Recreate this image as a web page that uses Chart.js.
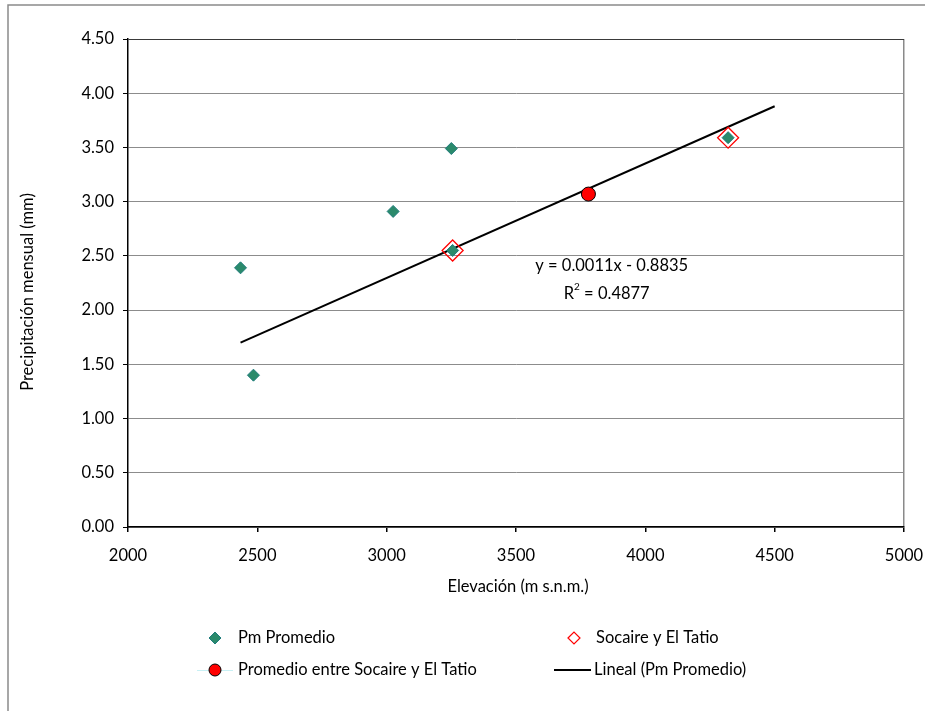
<!DOCTYPE html>
<html>
<head>
<meta charset="utf-8">
<script src="https://cdn.jsdelivr.net/npm/chart.js@4.4.1/dist/chart.umd.min.js"></script>
<style>
  html, body { margin: 0; padding: 0; background: #fff; overflow: hidden; }
  #wrap { position: relative; width: 925px; height: 711px; }
</style>
</head>
<body>
<div id="wrap"><canvas id="chart" width="925" height="711"></canvas></div>
<script>
  'use strict';

  // Pm Promedio (green diamonds).
  const pmElev = [2435, 2485, 3025, 3250, 3255, 4320];
  const pmPrecip = [2.39, 1.40, 2.91, 3.49, 2.55, 3.59];

  // Socaire y El Tatio (open red diamonds).
  const stElev = [3255, 4320];
  const stPrecip = [2.55, 3.59];

  // Promedio entre Socaire y El Tatio.
  const avgElev = [3780];
  const avgPrecip = [3.07];

  // Lineal (Pm Promedio) trend line end points as drawn.
  const trendElev = [2435, 4500];
  const trendPrecip = [1.70, 3.88];

  const xTicks = [2000, 2500, 3000, 3500, 4000, 4500, 5000];
  const yTicks = [0, 0.5, 1, 1.5, 2, 2.5, 3, 3.5, 4, 4.5];

  const equation = 'y = 0.0011x - 0.8835';
  const rSquared = '0.4877';

  const FONT = 'Lato, "Open Sans", sans-serif';
  const FS = 16.5;

  function pts(xs, ys) {
    return xs.map((x, i) => ({ x: x, y: ys[i] }));
  }

  // Draws outer frame, axis titles, trend equation and the two-column legend.
  const extras = {
    id: 'extras',
    beforeDraw(chart) {
      const ctx = chart.ctx;
      ctx.save();
      ctx.strokeStyle = '#8a8a8a';
      ctx.lineWidth = 1.5;
      ctx.strokeRect(8, 5, 1200, 1200);
      ctx.restore();
    },
    afterDraw(chart) {
      const ctx = chart.ctx;
      const xs = chart.scales.x;
      const ys = chart.scales.y;
      ctx.save();
      ctx.fillStyle = '#000';
      ctx.font = FS + 'px ' + FONT;
      ctx.textBaseline = 'middle';

      // Axis titles.
      ctx.textAlign = 'center';
      ctx.fillText('Elevación (m s.n.m.)', 518, 587);
      ctx.save();
      ctx.translate(28, 292);
      ctx.rotate(-Math.PI / 2);
      ctx.fillText('Precipitación mensual (mm)', 0, 0);
      ctx.restore();

      // Trend equation.
      const ex = xs.getPixelForValue(3870);
      const ey = ys.getPixelForValue(2.41);
      ctx.fillText(equation, ex, ey);
      const rTxt = ' = ' + rSquared;
      const wR = ctx.measureText('R').width;
      const wRest = ctx.measureText(rTxt).width;
      ctx.font = '10px ' + FONT;
      const w2 = ctx.measureText('2').width;
      const total = wR + w2 + wRest;
      const rx = ex - 5 - total / 2;
      const ry = ey + 28;
      ctx.textAlign = 'left';
      ctx.font = FS + 'px ' + FONT;
      ctx.fillText('R', rx, ry);
      ctx.font = '10px ' + FONT;
      ctx.fillText('2', rx + wR, ry - 7);
      ctx.font = FS + 'px ' + FONT;
      ctx.fillText(rTxt, rx + wR + w2, ry);

      // Legend.
      const row1 = 638;
      const row2 = 670;
      const diamond = (cx, cy, r, fill, stroke, lw) => {
        ctx.beginPath();
        ctx.moveTo(cx - r, cy);
        ctx.lineTo(cx, cy - r);
        ctx.lineTo(cx + r, cy);
        ctx.lineTo(cx, cy + r);
        ctx.closePath();
        if (fill) { ctx.fillStyle = fill; ctx.fill(); }
        ctx.strokeStyle = stroke;
        ctx.lineWidth = lw;
        ctx.stroke();
      };
      diamond(215, row1, 6, '#2b8a6b', '#1f7c7c', 1);
      diamond(574, row1, 6, '#fff', '#ff0000', 1.2);

      ctx.strokeStyle = '#c8f0f4';
      ctx.lineWidth = 1;
      ctx.beginPath();
      ctx.moveTo(197, row2 + 0.5);
      ctx.lineTo(233, row2 + 0.5);
      ctx.stroke();
      ctx.beginPath();
      ctx.arc(215, row2, 6, 0, Math.PI * 2);
      ctx.fillStyle = '#ff0000';
      ctx.fill();
      ctx.strokeStyle = '#000';
      ctx.lineWidth = 1;
      ctx.stroke();

      ctx.strokeStyle = '#000';
      ctx.lineWidth = 2;
      ctx.beginPath();
      ctx.moveTo(554, row2);
      ctx.lineTo(591, row2);
      ctx.stroke();

      ctx.fillStyle = '#000';
      ctx.textAlign = 'left';
      ctx.fillText('Pm Promedio', 238, row1);
      ctx.fillText('Socaire y El Tatio', 596, row1);
      ctx.fillText('Promedio entre Socaire y El Tatio', 238, row2);
      ctx.fillText('Lineal (Pm Promedio)', 594, row2);
      ctx.restore();
    }
  };

  new Chart(document.getElementById('chart').getContext('2d'), {
    type: 'scatter',
    data: {
      datasets: [
        {
          label: 'Lineal (Pm Promedio)',
          data: pts(trendElev, trendPrecip),
          showLine: true,
          borderColor: '#000',
          borderWidth: 2,
          pointRadius: 0,
          order: 3
        },
        {
          label: 'Socaire y El Tatio',
          data: pts(stElev, stPrecip),
          pointStyle: 'rectRot',
          pointRadius: 10.5,
          backgroundColor: 'rgba(255,255,255,0)',
          borderColor: '#ff0000',
          borderWidth: 1.3,
          order: 2
        },
        {
          label: 'Pm Promedio',
          data: pts(pmElev, pmPrecip),
          pointStyle: 'rectRot',
          pointRadius: 6,
          backgroundColor: '#2b8a6b',
          borderColor: '#1f7c7c',
          borderWidth: 1,
          order: 1
        },
        {
          label: 'Promedio entre Socaire y El Tatio',
          data: pts(avgElev, avgPrecip),
          pointStyle: 'circle',
          pointRadius: 7,
          backgroundColor: '#ff0000',
          borderColor: '#000',
          borderWidth: 1,
          order: 0
        }
      ]
    },
    options: {
      responsive: false,
      animation: false,
      events: [],
      layout: { padding: { left: 0, top: 39, right: 21, bottom: 0 } },
      plugins: {
        legend: { display: false },
        tooltip: { enabled: false },
        title: { display: false }
      },
      scales: {
        x: {
          type: 'linear',
          min: 2000,
          max: 5000,
          afterFit(scale) {
            scale.height = 184;
            scale.paddingRight = 0;
            scale.paddingLeft = 0;
          },
          afterBuildTicks(scale) { scale.ticks = xTicks.map(v => ({ value: v })); },
          ticks: {
            color: '#000',
            font: { family: FONT, size: FS },
            padding: 14,
            maxRotation: 0,
            callback: v => String(v)
          },
          grid: {
            drawOnChartArea: true,
            color: ctx => (ctx.tick && ctx.tick.value === 5000 ? '#8a8a8a' : 'rgba(0,0,0,0)'),
            tickColor: '#000',
            tickLength: 5,
            lineWidth: 1.5
          },
          border: { display: true, color: '#000', width: 1.5 }
        },
        y: {
          type: 'linear',
          min: 0,
          max: 4.5,
          afterFit(scale) {
            scale.width = 128;
            scale.paddingTop = 0;
            scale.paddingBottom = 0;
          },
          afterBuildTicks(scale) { scale.ticks = yTicks.map(v => ({ value: v })); },
          ticks: {
            color: '#000',
            font: { family: FONT, size: FS },
            padding: 9,
            callback: v => Number(v).toFixed(2)
          },
          grid: {
            color: ctx => (ctx.tick && ctx.tick.value === 4.5 ? '#3a3a3a' : '#8c8c8c'),
            tickColor: '#000',
            tickLength: 5,
            lineWidth: 1
          },
          border: { display: true, color: '#000', width: 1.5 }
        }
      }
    },
    plugins: [extras]
  });
</script>
</body>
</html>
